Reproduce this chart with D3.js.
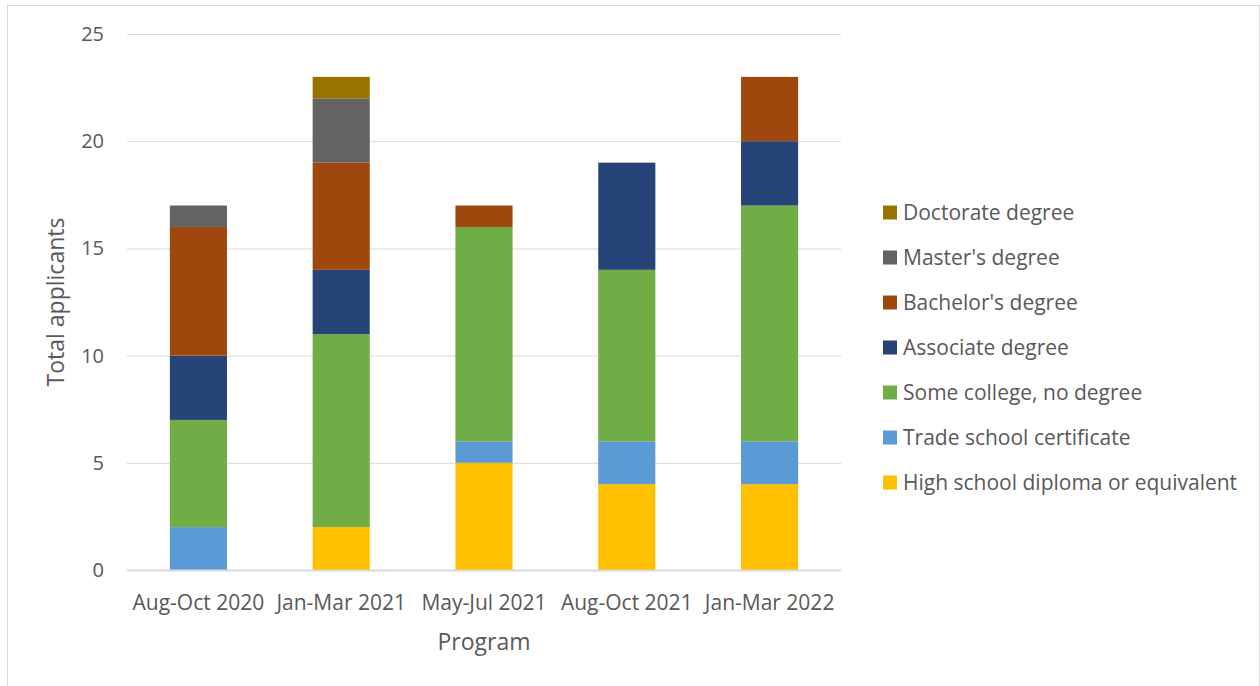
<!DOCTYPE html>
<html>
<head>
<meta charset="utf-8">
<script src="https://cdn.jsdelivr.net/npm/d3@7"></script>
<style>
  html, body { margin: 0; padding: 0; background: #fff; }
  svg text { font-family: "Open Sans", "Noto Sans", sans-serif; fill: #595959; }
</style>
</head>
<body>
<svg id="chart" width="1260" height="686"></svg>
<script>
// Applicants per program, broken down by highest education level
const programs = ["Aug-Oct 2020", "Jan-Mar 2021", "May-Jul 2021", "Aug-Oct 2021", "Jan-Mar 2022"];
const levels = [
  "High school diploma or equivalent",
  "Trade school certificate",
  "Some college, no degree",
  "Associate degree",
  "Bachelor's degree",
  "Master's degree",
  "Doctorate degree"
];
const highSchool   = [0, 2, 5, 4, 4];
const tradeSchool  = [2, 0, 1, 2, 2];
const someCollege  = [5, 9, 10, 8, 11];
const associate    = [3, 3, 0, 5, 3];
const bachelor     = [6, 5, 1, 0, 3];
const master       = [1, 3, 0, 0, 0];
const doctorate    = [0, 1, 0, 0, 0];
const yTicks = [0, 5, 10, 15, 20, 25];
const colors = ["#FFC000", "#5B9BD5", "#70AD47", "#264478", "#9E480E", "#636363", "#997300"];

const seriesValues = [highSchool, tradeSchool, someCollege, associate, bachelor, master, doctorate];
const rows = programs.map((p, i) => {
  const r = { program: p };
  levels.forEach((l, k) => { r[l] = seriesValues[k][i]; });
  return r;
});

const svg = d3.select("#chart");
const font = "Open Sans, Noto Sans, sans-serif";

// chart frame
svg.append("rect")
  .attr("x", 7.5).attr("y", 5.5).attr("width", 1252).attr("height", 690)
  .attr("fill", "none").attr("stroke", "#d9d9d9");

const plot = { left: 127, right: 841, top: 34, bottom: 570 };

const x = d3.scaleBand().domain(programs).range([plot.left, plot.right]).paddingInner(0.6).paddingOuter(0.3);
const y = d3.scaleLinear().domain([0, 25]).range([plot.bottom, plot.top]);

// gridlines
svg.append("g").selectAll("line").data(yTicks).join("line")
  .attr("x1", plot.left).attr("x2", plot.right)
  .attr("y1", d => y(d) + 0.5).attr("y2", d => y(d) + 0.5)
  .attr("stroke", "#d9d9d9").attr("stroke-width", 1);

// stacked bars
const stack = d3.stack().keys(levels)(rows);
svg.append("g").selectAll("g").data(stack).join("g")
  .attr("fill", (d, i) => colors[i])
  .selectAll("rect").data(d => d.filter(s => s[1] > s[0])).join("rect")
  .attr("x", d => x(d.data.program))
  .attr("width", x.bandwidth())
  .attr("y", d => y(d[1]))
  .attr("height", d => y(d[0]) - y(d[1]));

// axis baseline
svg.append("line")
  .attr("x1", plot.left).attr("x2", plot.right)
  .attr("y1", plot.bottom + 0.5).attr("y2", plot.bottom + 0.5)
  .attr("stroke", "#d9d9d9").attr("stroke-width", 2);

// y-axis tick labels
const yAxis = d3.axisLeft(y).tickValues(yTicks).tickSize(0).tickPadding(0);
const gy = svg.append("g").attr("transform", `translate(${plot.left - 23},0)`).call(yAxis);
gy.select(".domain").remove();
gy.selectAll("text").attr("font-size", 20).attr("fill", "#595959").attr("font-family", font);

// x-axis category labels
const xAxis = d3.axisBottom(x).tickSize(0).tickPadding(0);
const gx = svg.append("g").attr("transform", `translate(0,${plot.bottom})`).call(xAxis);
gx.select(".domain").remove();
gx.selectAll("text")
  .attr("y", 40).attr("dy", null)
  .attr("font-size", 21).attr("fill", "#595959").attr("font-family", font);

// axis titles
svg.append("text")
  .attr("transform", `translate(64,${(plot.top + plot.bottom) / 2}) rotate(-90)`)
  .attr("text-anchor", "middle").attr("font-size", 23)
  .text("Total applicants");

svg.append("text")
  .attr("x", (plot.left + plot.right) / 2).attr("y", 650)
  .attr("text-anchor", "middle").attr("font-size", 23)
  .text("Program");

// legend, top entry is the top of the stack
const legendItems = levels.map((l, i) => ({ label: l, color: colors[i] })).reverse();
const lg = svg.append("g").selectAll("g").data(legendItems).join("g")
  .attr("transform", (d, i) => `translate(883,${212.5 + i * 45})`);
lg.append("rect").attr("x", 0).attr("y", -7).attr("width", 14).attr("height", 14).attr("fill", d => d.color);
lg.append("text").attr("x", 20).attr("y", 0).attr("dy", "0.35em").attr("font-size", 21).text(d => d.label);
</script>
</body>
</html>
